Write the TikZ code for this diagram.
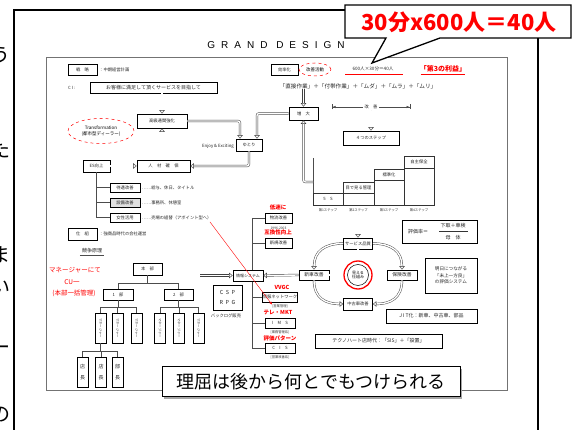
\documentclass[tikz,border=0pt]{standalone}
\usepackage{fontspec}
\setmainfont{Noto Sans CJK JP}
\newfontfamily\lsans[LetterSpace=60]{Liberation Sans}
\usetikzlibrary{arrows.meta,shapes.geometric,calc}
\newcommand\tf{\fontsize{4.3}{5}\selectfont}
\tikzset{
 bx/.style={draw,line width=0.75pt,fill=white,inner sep=0pt,font=\tf,text=black!85},
 dbl/.style={draw=black!75,double=white,double distance=1.4pt,line width=0.45pt,rounded corners=2pt},
 dar/.style={dbl,-{Triangle[open,length=3.5pt,width=5.5pt]}},
 thinl/.style={draw=black!70,line width=0.5pt},
 rtxt/.style={text=red,font=\fontsize{5.5}{6}\selectfont\bfseries,inner sep=0pt},
 rhand/.style={text=red,font=\fontsize{6.5}{7}\selectfont,inner sep=0pt},
 lbl/.style={font=\tf,text=black!85,inner sep=0pt},
 sub/.style={font=\fontsize{3.3}{4}\selectfont,text=black!80,inner sep=0pt},
 vbox/.style={bx,minimum width=11,minimum height=30},
 side/.style={anchor=east,font=\fontsize{20}{20}\selectfont,inner sep=0pt},
}
\newcommand\rbox[7]{\node[bx,minimum width={#6-#4},minimum height={#7-#5},#1] (#2) at ({(#4+#6)/2},{(#5+#7)/2}) {#3};}
\begin{document}
\begin{tikzpicture}[x=1pt,y=-1pt]
\useasboundingbox (0,0) rectangle (587,430);
\clip (0,0) rectangle (587,430);
\fill[white] (0,0) rectangle (587,430);

% partial characters of the neighbouring page
\node[side] (p1) at (11,55) {う};
\node[side] (p2) at (11,150) {た};
\node[side] (p3) at (11,255) {ま};
\node[side] (p4) at (11,288) {い};
\node[side] (p5) at (11,350) {ー};
\node[side] (p6) at (11,415) {の};

% outer frame
\draw[line width=1.5pt] (14,435) -- (14,10) -- (350,10);
\draw[line width=1.5pt] (538,36) -- (538,435);

% title and inner scanned frame
\node[font=\lsans\fontsize{10}{10}\selectfont,inner sep=0pt] (title) at (276,45) {GRAND DESIGN};
\draw[black!55,line width=0.6pt] (46,57) rectangle (507,390);

% ---------- top left ----------
\rbox{}{sen}{戦　略}{68}{64}{97}{75}
\node[lbl,anchor=west] (senT) at (99,69.5) {：中期経営計画};
\node[lbl,anchor=west] (ciL) at (68,87.5) {C I :};
\rbox{font=\fontsize{5}{6}\selectfont}{ci}{お客様に満足して頂くサービスを目指して}{90}{82}{217}{93}
\rbox{}{kok}{高級通関強化}{137}{114}{187}{128}
\node[draw=red,dashed,ellipse,minimum width=66,minimum height=25,line width=0.5pt,font=\fontsize{4.5}{5.5}\selectfont,align=center,inner sep=0pt] (trans) at (101,131) {Transformation\\(都市型ディーラー)};
\rbox{}{yut}{ゆとり}{236}{139}{262}{151}
\node[lbl,anchor=east] (enj) at (234,146) {Enjoy \& Exciting};
\rbox{}{jin}{人　材　確　保}{137}{160}{190}{172}
\rbox{}{es}{ES向上}{83}{160}{110}{172}

% ES tree
\rbox{}{tai}{待遇改善}{110}{183}{140}{192}
\rbox{fill=black!12}{set}{設備改善}{110}{198}{140}{207}
\rbox{}{jos}{女性活用}{110}{213}{140}{222}
\draw[thinl] (es.south) -- (es.south |- jos.west) -- (jos.west);
\draw[thinl] (es.south |- tai.west) -- (tai.west);
\draw[thinl] (es.south |- set.west) -- (set.west);
\node[lbl,anchor=west] (taiT) at (142,187.5) {……給与、休日、タイトル};
\node[lbl,anchor=west] (setT) at (142,202.5) {……事務所、休憩室};
\node[lbl,anchor=west] (josT) at (142,217.5) {……売場の組替（アポイント型へ）};

\rbox{}{shi}{仕　組}{68}{228}{97}{240}
\node[lbl,anchor=west] (shiT) at (99,234) {：強商品時代の会社運営};
\node[lbl,font=\fontsize{5}{6}\selectfont] (kyo) at (92,251) {競争原理};
\draw[black!70,line width=0.5pt] ($(kyo.south west)+(-2,2)$) -- ($(kyo.south east)+(2,2)$);

% red handwriting
\node[rhand] (r1) at (75,270) {マネージャーにて};
\node[rhand] (r2) at (72,282) {CU一};
\node[rhand] (r3) at (74,293) {(本部一括管理)};

% org tree
\rbox{}{honbu}{本　部}{133}{263}{162}{275}
\rbox{}{bu1}{1　部}{103}{289}{133}{300}
\rbox{}{bu2}{2　部}{164}{289}{193}{300}
\draw[thinl] (honbu.south) -- (honbu.south |- 0,283);
\draw[thinl] (bu1.north) -- (bu1.north |- 0,283) -- (bu2.north |- 0,283) -- (bu2.north);
\foreach \n/\x in {a1/100.5,a2/117.5,a3/136.5,b1/160,b2/179,b3/198.5}{
  \node[vbox] (\n) at (\x,328) {};
  \node[sub,rotate=-90] at (\n) {マネージャー};
}
\draw[thinl] (bu1.south) -- (bu1.south |- 0,307);
\draw[thinl] (a1.north) -- (a1.north |- 0,307) -- (a3.north |- 0,307) -- (a3.north);
\draw[thinl] (a2.north) -- (a2.north |- 0,307);
\draw[thinl] (bu2.south) -- (bu2.south |- 0,307);
\draw[thinl] (b1.north) -- (b1.north |- 0,307) -- (b3.north |- 0,307) -- (b3.north);
\draw[thinl] (b2.north) -- (b2.north |- 0,307);
\node[vbox,align=center,font=\fontsize{5}{11}\selectfont] (c1) at (82.5,372) {店\\長};
\node[vbox,align=center,font=\fontsize{5}{11}\selectfont] (c2) at (101,372) {店\\長};
\node[vbox,align=center,font=\fontsize{5}{11}\selectfont] (c3) at (117.5,372) {部\\長};
\draw[thinl] (a1.south) -- (a1.south |- 0,351);
\draw[thinl] (c1.north) -- (c1.north |- 0,351) -- (c3.north |- 0,351) -- (c3.north);
\draw[thinl] (c2.north) -- (c2.north |- 0,351);

\node[bx,minimum width=29,minimum height=25,align=center,font=\fontsize{5.5}{10}\selectfont] (csp) at (227.5,297.5) {C\ \ S\ \ P\\R\ \ P\ \ G};
\node[lbl] (cspT) at (226,316) {バックログ販売};

% ---------- top right ----------
\rbox{}{kou}{効率化}{271}{64}{298}{75}
\node[draw=red,dashed,ellipse,minimum width=32,minimum height=13,line width=0.5pt,font=\fontsize{4.5}{5}\selectfont,inner sep=0pt] (kai) at (315,69.5) {改善活動};
\node[lbl,font=\fontsize{4.6}{5}\selectfont] (eq) at (373,68.5) {600人×30分＝40人};
\draw[red,line width=0.6pt] (345,74) -- (403,74);
\node[text=red,font=\fontsize{7}{8}\selectfont\bfseries,inner sep=0pt] (dai3) at (443,69) {「第3の利益」};
\draw[red,line width=0.6pt] ($(dai3.south west)+(1,1.5)$) -- ($(dai3.south east)+(-1,1.5)$);
\node[lbl,font=\fontsize{5.6}{6}\selectfont] (form) at (358,86) {「直接作業」＋「付帯作業」＋「ムダ」＋「ムラ」＋「ムリ」};
\rbox{}{zodai}{増　大}{289}{107}{318}{120}

\coordinate (dimL) at (332,107);
\coordinate (dimR) at (410,107);
\draw[thinl,{Bar[width=5pt]Latex[length=3pt,width=2.5pt]}-{Latex[length=3pt,width=2.5pt]Bar[width=5pt]}] (dimL) -- (dimR);
\node[lbl,fill=white,inner sep=1.5pt] (kaizen) at (371,107) {改　善};
\rbox{}{four}{４つのステップ}{343}{131}{399}{145}

% step chart
\draw[thinl] (313,158) -- (313,205) -- (434,205);
\draw[black!80,line width=0.7pt] (313,193) rectangle (343,205);
\draw[black!80,line width=0.7pt] (343,182) rectangle (374,205) (343,193) -- (374,193);
\draw[black!80,line width=0.7pt] (374,169) rectangle (404,205) (374,180) -- (404,180);
\draw[black!80,line width=0.7pt] (404,156) rectangle (434,205) (404,168) -- (434,168);
\node[lbl] (st1) at (328,199) {5　S};
\node[lbl] (st2) at (358.5,187.5) {目で見る管理};
\node[lbl] (st3) at (389,174.5) {標準化};
\node[lbl] (st4) at (419,162) {自主保全};
\foreach \x/\k in {328/1,358.5/2,389/3,419/4}{\node[sub] at (\x,210.5) {第\k ステップ};}
\coordinate (stepL) at (313,182);
\coordinate (stepB) at (358,215);

% service ring
\rbox{}{svc}{サービス品質}{343.5}{238}{372.5}{249}
\rbox{font=\fontsize{4.8}{5}\selectfont}{shin}{新車改善}{299}{270}{329}{280}
\rbox{font=\fontsize{4.8}{5}\selectfont}{hok}{保険改善}{387}{270}{417}{280}
\rbox{}{chu}{中古車改善}{343.5}{298}{372.5}{310}
\draw[dbl,rounded corners=0pt] (svc.south) -- (chu.north);
\draw[dbl,rounded corners=0pt] (shin.east) -- (hok.west);
\node[circle,draw=red,line width=1.3pt,minimum size=28,inner sep=0pt,fill=white] (mie) at (358,275) {};
\node[circle,draw,line width=0.5pt,minimum size=21,font=\fontsize{4}{4.8}\selectfont,align=center,inner sep=0pt] (mieI) at (mie) {見える\\仕組み};
\draw[dar] (svc.west) to[out=180,in=90,looseness=1.2] (shin.north);
\draw[dar] (svc.east) to[out=0,in=90,looseness=1.2] (hok.north);
\draw[dar] (shin.south) to[out=-90,in=180,looseness=1.2] (chu.west);
\draw[dar] (hok.south) to[out=-90,in=0,looseness=1.2] (chu.east);

\node[bx,minimum width=75,minimum height=23] (hyo) at (439.5,231.5) {};
\node[lbl,anchor=west,font=\fontsize{5}{6}\selectfont] (hyoL) at (408,232) {評価率＝};
\node[lbl,font=\fontsize{5}{6}\selectfont] (hyoN) at (453,226) {下取＋車検};
\draw[black!80,line width=0.5pt] (439,231.5) -- (468,231.5);
\node[lbl,font=\fontsize{5}{6}\selectfont] (hyoD) at (453,237.5) {母　体};
\node[bx,minimum width=52,minimum height=35,align=center,font=\fontsize{4.6}{6.5}\selectfont] (mirai) at (451,275.5) {明日につながる\\「未上一方良」\\の評価システム};
\rbox{font=\fontsize{5}{6}\selectfont}{jit}{J I T化：新車、中古車、部品}{386}{309}{477}{323}
\rbox{font=\fontsize{5}{6}\selectfont}{tec}{テクノハート店時代：「SIS」＋「設置」}{315}{334}{442}{348}

% info system tree
\draw[thinl] (252,218) -- (252,348);
\rbox{}{but}{物流改善}{265}{213}{292}{223}
\rbox{}{shk}{新規改善}{265}{238}{292}{248}
\rbox{}{jn}{情報ネットワーク}{265}{292}{295}{302}
\rbox{}{ims}{I　M　S}{265}{318}{295}{328}
\rbox{}{cis}{C　I　S}{265}{343}{295}{353}
\foreach \n in {but,shk,jn,ims,cis}{\draw[thinl] (252,0 |- \n.west) -- (\n.west);}
\node[sub] (butS) at (278.5,228) {1996-2003};
\node[sub] (jnS) at (280,306.5) {[営業管理]};
\node[sub] (imsS) at (280,332.5) {[業務管理系]};
\node[sub] (cisS) at (280,357.5) {[営業改善系]};
\node[rtxt] (rb) at (278,207) {低迷に};
\node[rtxt] (rs) at (278,232.5) {互換性向上};
\node[rtxt] (rv) at (282,287.5) {VVGC};
\node[rtxt] (rm) at (278,313) {テレ・MKT};
\node[rtxt] (rp) at (280,338) {評価パターン};
\rbox{font=\fontsize{4}{5}\selectfont}{joho}{情報システム}{233}{270}{263}{281}
\coordinate (jin0) at (200,275.5);

% hollow double arrows
\draw[dar] (kok.north |- ci.south) -- (kok.north);
\draw[dar] (kok.south |- jin.north) -- (kok.south);
\draw[dar] (es.east) -- (jin.west);
\draw[dar] (kok.east) -| ($(yut.north)+(-9,0)$);
\draw[dar] (zodai.west) -| ($(yut.north)+(8,0)$);
\draw[dar] (yut.south) |- (jin.east);
\draw[dar] (zodai.north |- form.south) -- (zodai.north);
\draw[dar] (stepL) -| (zodai.south);
\draw[dar] (kaizen.south) -- (kaizen.south |- four.north);
\draw[dar] (stepB) -- (svc.north);
\draw[dar] (shin.west) -- (joho.east);
\draw[dar] (jin0) -- (joho.west);

% red pointer line
\coordinate (redS) at (210,222);
\draw[red,line width=0.4pt,-{Latex[length=3pt,width=2.5pt]}] (redS) -- (jnS.north west);

% big statement box
\fill[black!35] (164,369) rectangle (462,399);
\node[draw,line width=1pt,fill=white,minimum width=298,minimum height=30,inner sep=0pt,font=\fontsize{18}{18}\selectfont] (riku) at (311,382) {理屈は後から何とでもつけられる};

% callout
\draw[line width=1.3pt,fill=white] (345,5) -- (571,5) -- (571,38) -- (440,38) -- (372,63) -- (386,38) -- (345,38) -- cycle;
\node[font=\fontsize{22}{22}\selectfont\bfseries,text=red,inner sep=0pt] (callout) at (459,22) {30分x600人＝40人};
\end{tikzpicture}
\end{document}
